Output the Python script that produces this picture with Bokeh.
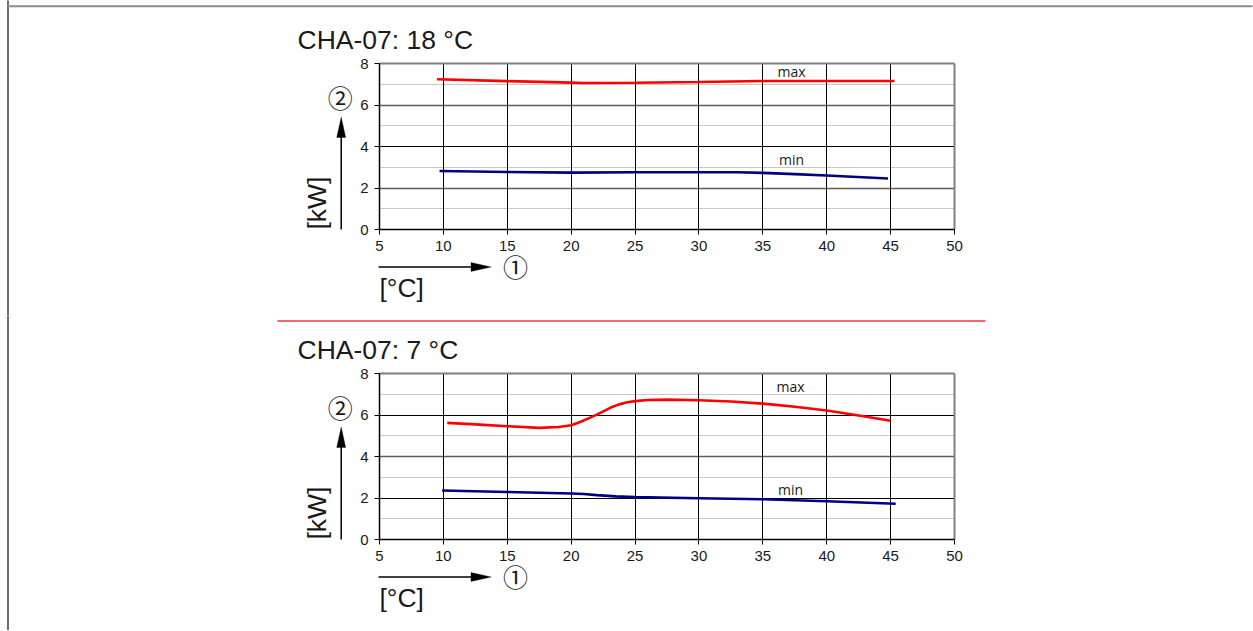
import math
from bokeh.plotting import figure
from bokeh.models import Range1d, FixedTicker, Grid, Label, Arrow, PolyAnnotation
from bokeh.layouts import column
from bokeh.embed import file_html
from bokeh.resources import INLINE

# ---------------- data ----------------
x_ticks = [5, 10, 15, 20, 25, 30, 35, 40, 45, 50]
y_ticks = [0, 2, 4, 6, 8]

titles = ["CHA-07: 18 °C", "CHA-07: 7 °C"]

c1_max_x = [9.5, 15, 20, 21, 25, 30, 35, 40, 45.3]
c1_max_y = [7.24, 7.15, 7.08, 7.06, 7.07, 7.11, 7.16, 7.16, 7.16]
c1_min_x = [9.7, 15, 20, 25, 30, 33, 35, 37.5, 40, 44.8]
c1_min_y = [2.82, 2.77, 2.74, 2.76, 2.76, 2.76, 2.73, 2.67, 2.60, 2.46]

c2_max_x = [10.3, 12.5, 15, 17.5, 19, 20, 20.7, 21.4, 22, 22.6, 23.1, 23.7, 24.3, 25, 26,
            27.5, 30, 32.5, 35, 37.5, 40, 42.5, 45]
c2_max_y = [5.62, 5.55, 5.46, 5.38, 5.42, 5.51, 5.66, 5.85, 6.02, 6.20, 6.36, 6.50, 6.60, 6.67, 6.72,
            6.74, 6.71, 6.65, 6.55, 6.40, 6.22, 5.98, 5.72]
c2_min_x = [9.9, 15, 20, 21, 22, 23.5, 25, 30, 35, 40, 45.4]
c2_min_y = [2.36, 2.29, 2.22, 2.19, 2.14, 2.08, 2.04, 1.99, 1.94, 1.84, 1.72]

# ---------------- layout (page pixels) ----------------
W = 1253
X_LEFT_PX, X_RIGHT_PX = 379, 954          # page x of 5 and 50
FRAME_H_PX = 166                          # page height of 0..8
SX = (X_RIGHT_PX - X_LEFT_PX) / 45.0
SY = FRAME_H_PX / 8.0
TXT = "#1a1a1a"
HAS_CROSS = "cross_bounds" in Grid.properties()


def make_chart(title, mx, my, nx, ny, height, fig_top, frame_top, gray_major, black_major,
               max_lbl, min_lbl, separator=False, top_border=False):
    frame_bot = frame_top + FRAME_H_PX

    def dx(px):
        return 5 + (px - X_LEFT_PX) / SX

    def dy(py):
        return (frame_bot - py) / SY

    xr = Range1d(dx(0), dx(W))
    yr = Range1d(dy(fig_top + height), dy(fig_top))
    p = figure(width=W, height=height, x_range=xr, y_range=yr,
               output_backend="svg", toolbar_location=None,
               min_border_left=0, min_border_right=0, min_border_top=0, min_border_bottom=0)
    p.background_fill_color = "white"
    p.border_fill_color = "white"
    p.outline_line_color = None
    p.xgrid.visible = False
    p.ygrid.visible = False

    def add_grid(dim, ticks, color, width):
        if HAS_CROSS:
            g = Grid(dimension=dim, ticker=FixedTicker(ticks=ticks), grid_line_color=color,
                     grid_line_width=width,
                     bounds=(5, 50) if dim == 0 else (0, 8),
                     cross_bounds=(0, 8) if dim == 0 else (5, 50))
            p.add_layout(g)
        else:
            for t in ticks:
                if dim == 0:
                    p.add_layout(Arrow(end=None, x_start=t, y_start=0, x_end=t, y_end=8,
                                       line_color=color, line_width=width, level="underlay"))
                else:
                    p.add_layout(Arrow(end=None, x_start=5, y_start=t, x_end=50, y_end=t,
                                       line_color=color, line_width=width, level="underlay"))

    add_grid(1, [1, 3, 5, 7], "#c8c8c8", 1)
    add_grid(1, gray_major, "#5e5e5e", 1.5)
    add_grid(1, black_major, "black", 1)
    add_grid(0, x_ticks[1:-1], "black", 1)
    add_grid(1, [8], "#808080", 2)
    add_grid(0, [50], "#808080", 2)

    p.xaxis.fixed_location = 0
    p.xaxis.bounds = (5, 50)
    p.yaxis.fixed_location = 5
    p.yaxis.bounds = (0, 8)
    for ax in (p.xaxis[0], p.yaxis[0]):
        ax.axis_line_color = "black"
        ax.axis_line_width = 1.5
        ax.major_tick_line_color = "black"
        ax.major_tick_out = 5
        ax.major_tick_in = 0
        ax.minor_tick_out = 0
        ax.minor_tick_in = 0
        ax.major_label_text_font = "Liberation Sans"
        ax.major_label_text_font_size = "15px"
        ax.major_label_text_color = TXT
    p.xaxis.ticker = FixedTicker(ticks=x_ticks)
    p.yaxis.ticker = FixedTicker(ticks=y_ticks)
    p.xaxis.major_label_standoff = 6
    p.yaxis.major_label_standoff = 6

    # data curves
    p.line(mx, my, line_color="#ff0000", line_width=2.6)
    p.line(nx, ny, line_color="#000080", line_width=2.6)

    # series labels
    for (lx, ly, t) in (max_lbl + ("max",), min_lbl + ("min",)):
        p.add_layout(Label(x=dx(lx), y=dy(ly), text=t, text_align="center",
                           text_baseline="middle", text_font="Open Sans",
                           text_font_size="14px", text_color=TXT))

    big = "26.5px"
    # title
    p.add_layout(Label(x=dx(297), y=dy(frame_top - 23.5), text=title,
                       text_font="Liberation Sans", text_font_size=big,
                       text_color=TXT, text_baseline="alphabetic", text_align="left"))
    # y unit
    p.add_layout(Label(x=dx(316.5), y=dy(frame_bot), text="[kW]", angle=math.pi / 2,
                       text_font="Liberation Sans", text_font_size=big,
                       text_color=TXT, text_baseline="alphabetic", text_align="left"))
    # x unit
    p.add_layout(Label(x=dx(379), y=dy(frame_bot + 58), text="[°C]",
                       text_font="Liberation Sans", text_font_size=big,
                       text_color=TXT, text_baseline="alphabetic", text_align="left"))

    # y arrow
    ax_x = 340.7
    p.add_layout(Arrow(end=None, x_start=dx(ax_x), y_start=dy(frame_bot),
                       x_end=dx(ax_x), y_end=dy(frame_top + 70),
                       line_color="black", line_width=1.5))
    p.add_layout(PolyAnnotation(xs=[dx(ax_x - 4.5), dx(ax_x + 4.5), dx(ax_x)],
                                ys=[dy(frame_top + 74), dy(frame_top + 74), dy(frame_top + 53.5)],
                                fill_color="black", fill_alpha=1, line_color="black",
                                line_width=1))
    p.add_layout(Label(x=dx(ax_x - 1), y=dy(frame_top + 33.5), text="②",
                       text_font="Noto Sans CJK JP", text_font_size="25px",
                       text_color=TXT, text_align="center", text_baseline="middle"))

    # x arrow
    ay = frame_bot + 37.5
    p.add_layout(Arrow(end=None, x_start=dx(378), y_start=dy(ay), x_end=dx(474), y_end=dy(ay),
                       line_color="black", line_width=1.5))
    p.add_layout(PolyAnnotation(xs=[dx(470.5), dx(470.5), dx(490.7)],
                                ys=[dy(ay - 4.5), dy(ay + 4.5), dy(ay)],
                                fill_color="black", fill_alpha=1, line_color="black",
                                line_width=1))
    p.add_layout(Label(x=dx(515), y=dy(ay - 1.5), text="①",
                       text_font="Noto Sans CJK JP", text_font_size="25px",
                       text_color=TXT, text_align="center", text_baseline="middle"))

    # page frame lines
    p.add_layout(Arrow(end=None, x_start=dx(7.5), y_start=dy(fig_top - 2), x_end=dx(7.5),
                       y_end=dy(fig_top + height + 2), line_color="#3a3a3a", line_width=1.5))
    if top_border:
        p.add_layout(Arrow(end=None, x_start=dx(7), y_start=dy(5.8), x_end=dx(1252),
                           y_end=dy(5.8), line_color="#8c8c8c", line_width=2))
    if separator:
        p.add_layout(Arrow(end=None, x_start=dx(277), y_start=dy(320.5),
                           x_end=dx(985), y_end=dy(320.5),
                           line_color="#ff3040", line_width=1.3))
    return p


H1, H2 = 315, 315
p1 = make_chart(titles[0], c1_max_x, c1_max_y, c1_min_x, c1_min_y, H1, 0, 63,
                gray_major=[2, 6], black_major=[4],
                max_lbl=(791, 70.7), min_lbl=(791, 159), top_border=True)
p2 = make_chart(titles[1], c2_max_x, c2_max_y, c2_min_x, c2_min_y, H2, H1, 373,
                gray_major=[4], black_major=[2, 6],
                max_lbl=(790, 386), min_lbl=(790, 488.7), separator=True)

layout = column(p1, p2, spacing=0)

with open("out.html", "w") as f:
    f.write(file_html(layout, INLINE))
